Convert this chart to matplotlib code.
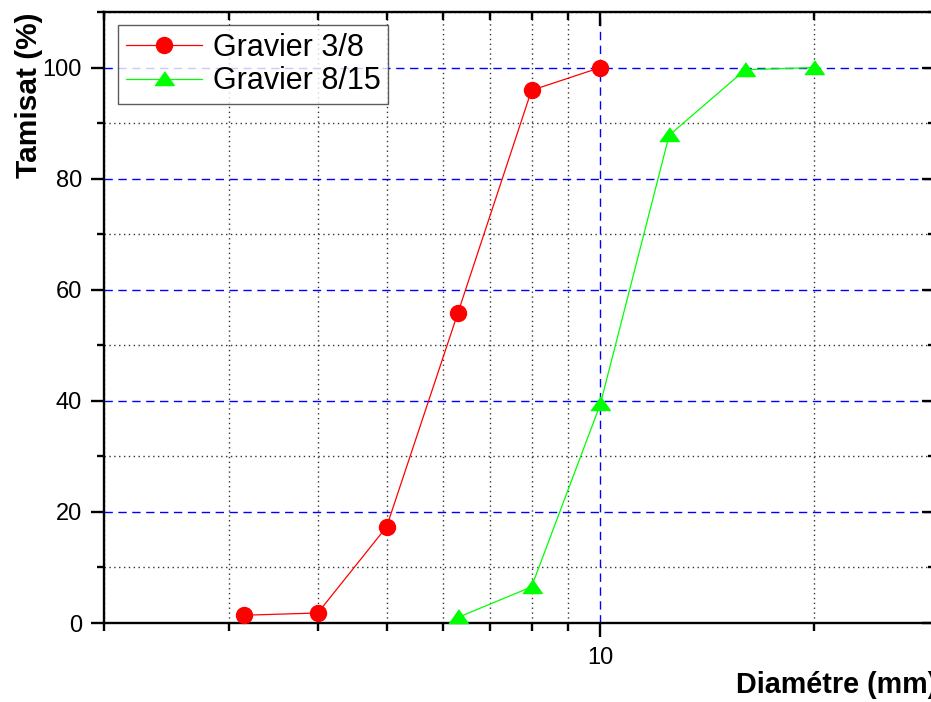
import matplotlib
matplotlib.use("Agg")
import matplotlib.pyplot as plt
from matplotlib.ticker import FixedLocator, NullFormatter, FixedFormatter

plt.rcParams['font.family'] = ['Liberation Sans', 'DejaVu Sans']

# sieve sizes (mm) and passing (%)
d_38 = [3.15, 4, 5, 6.3, 8, 10]
p_38 = [1.4, 1.8, 17.3, 55.8, 95.9, 100]
d_815 = [6.3, 8, 10, 12.5, 16, 20]
p_815 = [1.0, 6.5, 39.4, 87.8, 99.6, 100]

W, H = 931, 702
fig = plt.figure(figsize=(W / 100, H / 100), dpi=100)
ax = fig.add_axes([104 / W, 79 / H, (935 - 104) / W, (690 - 79) / H])
ax.set_xscale('log')
ax.set_xlim(2, 29.6)
ax.set_ylim(0, 110)

# grid
ax.xaxis.set_major_locator(FixedLocator([10]))
ax.xaxis.set_minor_locator(FixedLocator([2, 3, 4, 5, 6, 7, 8, 9, 20]))
ax.xaxis.set_major_formatter(FixedFormatter(['10']))
ax.xaxis.set_minor_formatter(NullFormatter())
ax.yaxis.set_major_locator(FixedLocator([0, 20, 40, 60, 80, 100]))
ax.yaxis.set_minor_locator(FixedLocator([10, 30, 50, 70, 90, 110]))

ax.grid(True, which='major', color='#0000ff', ls=(0, (6, 4)), lw=1.0)
ax.grid(True, which='minor', color='#333333', ls=(0, (1, 2.5)), lw=1.0)
ax.set_axisbelow(True)

tri = [(-1, -0.62), (1, -0.62), (0, 0.8)]
ax.plot(d_38, p_38, color='#ff0000', lw=0.9, marker='o', ms=11.5,
        mec='#ff0000', mfc='#ff0000', label='Gravier 3/8', clip_on=False, zorder=3)
ax.plot(d_815, p_815, color='#00ff00', lw=0.9, marker=tri, ms=14,
        mec='#00ff00', mfc='#00ff00', label='Gravier 8/15', clip_on=False, zorder=3)

for s in ax.spines.values():
    s.set_linewidth(1.7)

ax.tick_params(axis='both', which='both', labelsize=17, width=1.7)
ax.tick_params(axis='x', which='major', direction='out', length=10, pad=7)
ax.tick_params(axis='x', which='minor', direction='out', length=6)
ax.tick_params(axis='y', which='major', direction='out', length=9.5, pad=6.5)
ax.tick_params(axis='y', which='minor', direction='out', length=5)

ax.tick_params(top=True, right=True, which='both')
# top / right ticks point inward
for t in ax.xaxis.get_major_ticks() + ax.xaxis.get_minor_ticks():
    t.tick2line.set_marker(matplotlib.lines.TICKDOWN)
for t in ax.yaxis.get_major_ticks() + ax.yaxis.get_minor_ticks():
    t.tick2line.set_marker(matplotlib.lines.TICKLEFT)

leg = ax.legend(loc='upper left', bbox_to_anchor=(14 / 831, 1 - 13 / 611),
                fontsize=22, frameon=True, fancybox=False, borderpad=0.25,
                handlelength=2.5, handletextpad=0.35, labelspacing=0.12,
                borderaxespad=0)
leg.get_frame().set_edgecolor('#333333')
leg.get_frame().set_linewidth(1.0)

fig.text(29 / W, 1 - 12 / H, 'Tamisat (%)', rotation=90, fontsize=21.5,
         fontweight='bold', ha='center', va='top')
fig.text(736 / W, 1 - 685 / H, 'Diamétre (mm)', fontsize=20.7,
         fontweight='bold', ha='left', va='center')

fig.savefig('out.png', dpi=100)
